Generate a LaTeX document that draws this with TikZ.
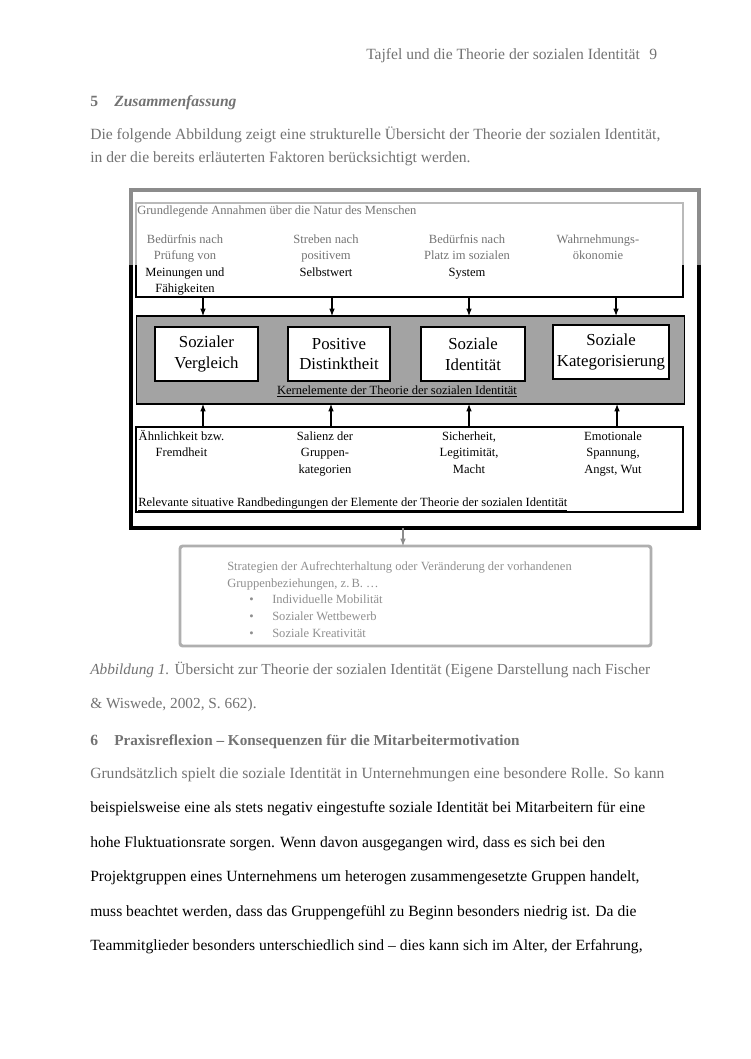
\documentclass[tikz,border=0pt]{standalone}
\usepackage{fontspec}
\setmainfont{Liberation Serif}
\usetikzlibrary{arrows.meta}
\definecolor{blurtxt}{gray}{0.45}
\definecolor{blurline}{gray}{0.55}
\definecolor{kerngray}{gray}{0.64}
\begin{document}
\begin{tikzpicture}[x=0.75pt,y=-0.75pt,
  body/.style={font=\fontsize{11.7}{14}\selectfont, inner sep=0pt, anchor=base west},
  bodyblur/.style={body, text=blurtxt},
  small/.style={font=\fontsize{9.4}{12.2}\selectfont, inner sep=0pt, align=center, anchor=north},
  smallblur/.style={small, text=blurtxt},
  frame/.style={draw=black, line width=0.8pt, anchor=north west, inner sep=0pt, outer sep=0pt},
  kern/.style={frame, fill=white, font=\fontsize{12.6}{15.6}\selectfont, align=center},
  arr/.style={line width=0.8pt, -{Latex[length=5.5pt,width=4.2pt]}}]
\useasboundingbox[fill=white] (0,0) rectangle (750,1059);

% header and first paragraph (blurred)
\node[bodyblur] (hdr) at (366,60) {Tajfel und die Theorie der sozialen Identität};
\node[bodyblur] (pg) at (649,60) {9};
\node[bodyblur, font=\fontsize{11.7}{14}\selectfont\bfseries] (h5n) at (90,107) {5};
\node[bodyblur, font=\fontsize{11.7}{14}\selectfont\bfseries\itshape] (h5) at (114,107) {Zusammenfassung};
\node[bodyblur] (p1) at (90,140) {Die folgende Abbildung zeigt eine strukturelle Übersicht der Theorie der sozialen Identität,};
\node[bodyblur] (p2) at (90,163) {in der die bereits erläuterten Faktoren berücksichtigt werden.};

% outer frame
\node[frame, line width=2.4pt, minimum width=0.75*568, minimum height=0.75*338] (outer) at (131,190) {};
% top inner box
\node[frame, minimum width=0.75*547, minimum height=0.75*94] (topbox) at (136,203) {};
% blurred upper parts of the frames
\coordinate (bl) at (0,265);
\draw[blurline, line width=3.2pt] (outer.west |- bl) -- (outer.north west) -- (outer.north east) -- (outer.east |- bl);
\draw[blurline!60, line width=2.2pt] (topbox.west |- bl) -- (topbox.north west) -- (topbox.north east) -- (topbox.east |- bl);

\node[smallblur, anchor=west] (natur) at (137,212) {Grundlegende Annahmen über die Natur des Menschen};
\node[small] (c1) at (185,232) {\strut\textcolor{blurtxt}{Bedürfnis nach}\\ \textcolor{blurtxt}{Prüfung von}\\ Meinungen und\\ Fähigkeiten};
\node[small] (c2) at (326,232) {\strut\textcolor{blurtxt}{Streben nach}\\ \textcolor{blurtxt}{positivem}\\ Selbstwert};
\node[small] (c3) at (467,232) {\strut\textcolor{blurtxt}{Bedürfnis nach}\\ \textcolor{blurtxt}{Platz im sozialen}\\ System};
\node[smallblur] (c4) at (598,232) {\strut Wahrnehmungs-\\ ökonomie};

% core elements
\node[frame, fill=kerngray, minimum width=0.75*548, minimum height=0.75*88] (kbox) at (136.5,316) {};
\node[kern, minimum width=0.75*103, minimum height=0.75*54] (k1) at (155,327) {Sozialer\\ Vergleich};
\node[kern, minimum width=0.75*102, minimum height=0.75*54] (k2) at (288,327) {Positive\\ Distinktheit};
\node[kern, minimum width=0.75*104, minimum height=0.75*54] (k3) at (421,327) {Soziale\\ Identität};
\node[kern, minimum width=0.75*116, minimum height=0.75*54] (k4) at (553,325) {Soziale\\ Kategorisierung};
\node[small, anchor=base] (kcap) at (397,394) {\underline{Kernelemente der Theorie der sozialen Identität}};

% conditions box
\node[frame, minimum width=0.75*547, minimum height=0.75*85] (botbox) at (136,427) {};
\node[small] (b1) at (181.5,429) {\strut Ähnlichkeit bzw.\\ Fremdheit};
\node[small] (b2) at (325,429) {\strut Salienz der\\ Gruppen-\\ kategorien};
\node[small] (b3) at (469,429) {\strut Sicherheit,\\ Legitimität,\\ Macht};
\node[small] (b4) at (613,429) {\strut Emotionale\\ Spannung,\\ Angst, Wut};
\node[small, anchor=base west] (bcap) at (138,506) {\underline{Relevante situative Randbedingungen der Elemente der Theorie der sozialen Identität}};

% arrows
\foreach \i/\x in {1/203,2/332,3/469,4/616}{
  \coordinate (ta\i) at (\x,0);
  \draw[arr] (topbox.south -| ta\i) -- (kbox.north -| ta\i);
}
\foreach \i/\x in {1/203,2/331,3/469,4/617}{
  \coordinate (ba\i) at (\x,0);
  \draw[arr] (botbox.north -| ba\i) -- (kbox.south -| ba\i);
}

% strategies box (blurred)
\node[frame, draw=blurline!70, line width=2.2pt, rounded corners=2pt, minimum width=0.75*471, minimum height=0.75*100] (strat) at (180,546) {};
\coordinate (sa) at (403,0);
\draw[arr, draw=blurline] (outer.south -| sa) -- (strat.north -| sa);
\node[bodyblur, font=\fontsize{9.4}{12}\selectfont, text=blurtxt!80] (s1) at (227,570) {Strategien der Aufrechterhaltung oder Veränderung der vorhandenen};
\node[bodyblur, font=\fontsize{9.4}{12}\selectfont, text=blurtxt!80] (s2) at (227,587) {Gruppenbeziehungen, z.\,B. \dots};
\foreach \i/\y/\t in {1/603/Individuelle Mobilität,2/620/Sozialer Wettbewerb,3/637/Soziale Kreativität}{
  \node[bodyblur, font=\fontsize{9.4}{12}\selectfont, text=blurtxt!80] (sb\i) at (249,\y) {\textbullet};
  \node[bodyblur, font=\fontsize{9.4}{12}\selectfont, text=blurtxt!80] (st\i) at (272,\y) {\t};
}

% caption and section 6 (blurred)
\node[bodyblur, font=\fontsize{11.5}{14}\selectfont] (cap1) at (90,674) {\textit{Abbildung 1.} Übersicht zur Theorie der sozialen Identität (Eigene Darstellung nach Fischer};
\node[bodyblur, font=\fontsize{11.5}{14}\selectfont] (cap2) at (90,708) {\& Wiswede, 2002, S. 662).};
\node[bodyblur, font=\fontsize{11.7}{14}\selectfont\bfseries] (h6n) at (90,745) {6};
\node[bodyblur, font=\fontsize{11.4}{14}\selectfont\bfseries] (h6) at (114,745) {Praxisreflexion -- Konsequenzen für die Mitarbeitermotivation};
\node[bodyblur] (q1) at (90,778) {Grundsätzlich spielt die soziale Identität in Unternehmungen eine besondere Rolle. So kann};
\node[body] (q2) at (90,812) {beispielsweise eine als stets negativ eingestufte soziale Identität bei Mitarbeitern für eine};
\node[body] (q3) at (90,847) {hohe Fluktuationsrate sorgen. Wenn davon ausgegangen wird, dass es sich bei den};
\node[body] (q4) at (90,881) {Projektgruppen eines Unternehmens um heterogen zusammengesetzte Gruppen handelt,};
\node[body] (q5) at (90,916) {muss beachtet werden, dass das Gruppengefühl zu Beginn besonders niedrig ist. Da die};
\node[body] (q6) at (90,950) {Teammitglieder besonders unterschiedlich sind -- dies kann sich im Alter, der Erfahrung,};
\end{tikzpicture}
\end{document}
